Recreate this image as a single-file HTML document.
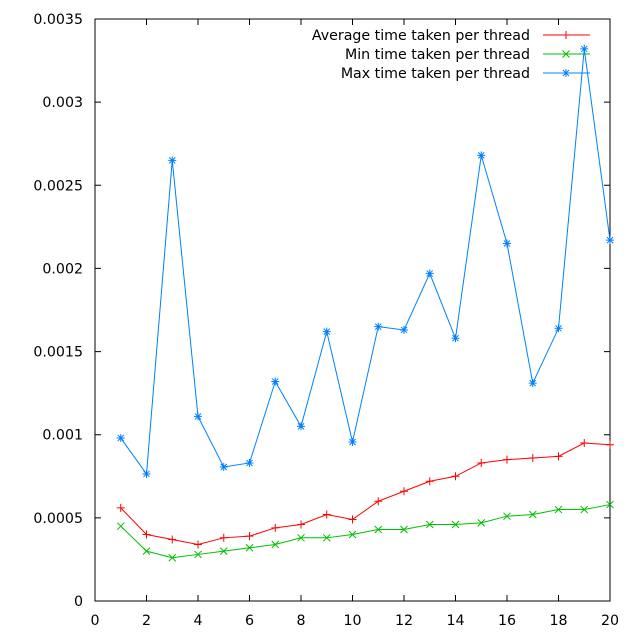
<!DOCTYPE html>
<html><head><meta charset="utf-8"><style>
html,body{margin:0;padding:0;background:#fff;}
svg{display:block;font-family:"DejaVu Sans","Liberation Sans",sans-serif;}
</style></head><body>
<svg id="chart" width="640" height="640" viewBox="0 0 640 640" xmlns="http://www.w3.org/2000/svg"></svg>
<script>
const threads = [1,2,3,4,5,6,7,8,9,10,11,12,13,14,15,16,17,18,19,20];
const avgTime = [0.00056,0.0004,0.00037,0.00034,0.00038,0.00039,0.00044,0.00046,0.00052,0.00049,0.0006,0.00066,0.00072,0.00075,0.00083,0.00085,0.00086,0.00087,0.00095,0.00094];
const minTime = [0.00045,0.0003,0.00026,0.00028,0.0003,0.00032,0.00034,0.00038,0.00038,0.0004,0.00043,0.00043,0.00046,0.00046,0.00047,0.00051,0.00052,0.00055,0.00055,0.00058];
const maxTime = [0.00098,0.000764,0.00265,0.00111,0.000806,0.00083,0.00132,0.00105,0.00162,0.000956,0.00165,0.00163,0.00197,0.00158,0.00268,0.00215,0.00131,0.00164,0.00332,0.00217];
const xTicks = [0,2,4,6,8,10,12,14,16,18,20];
const yTicks = [0,0.0005,0.001,0.0015,0.002,0.0025,0.003,0.0035];
const yTickLabels = ["0","0.0005","0.001","0.0015","0.002","0.0025","0.003","0.0035"];
const seriesNames = ["Average time taken per thread","Min time taken per thread","Max time taken per thread"];

const NS="http://www.w3.org/2000/svg";
const svg=document.getElementById('chart');
const L=95,R=610,T=19,B=601;
const FS=14.2;
const xs=v=>L+(v-0)/(20-0)*(R-L);
const ys=v=>B-(v-0)/(0.0035-0)*(B-T);
function mk(tag,attrs,parent){const e=document.createElementNS(NS,tag);for(const k in attrs)e.setAttribute(k,attrs[k]);(parent||svg).appendChild(e);return e;}

const frame=mk('rect',{x:L,y:T,width:R-L,height:B-T,fill:'none',stroke:'#000','stroke-width':1});



xTicks.forEach(t=>{
  const x=xs(t);
  const tk=mk('path',{d:`M${x},${B}v-6M${x},${T}v6`,stroke:'#000'});
  
  
  const tx=mk('text',{x:x,y:B+24,'text-anchor':'middle','font-size':FS});
  tx.textContent=t;
  
  
});
yTicks.forEach((t,i)=>{
  const y=ys(t);
  const tk=mk('path',{d:`M${L},${y}h6M${R},${y}h-6`,stroke:'#000'});
  
  
  const tx=mk('text',{x:83,y:y+5,'text-anchor':'end','font-size':FS});
  tx.textContent=yTickLabels[i];
  
  
});

function marker(g,x,y,type,color){
  let d;
  if(type==='plus') d=`M${x-4},${y}h8M${x},${y-4}v8`;
  else if(type==='x') d=`M${x-3.5},${y-3.5}l7,7M${x-3.5},${y+3.5}l7,-7`;
  else d=`M${x-4},${y}h8M${x},${y-4}v8M${x-3},${y-3}l6,6M${x-3},${y+3}l6,-6`;
  const m=mk('path',{d:d,stroke:color,'stroke-width':1,fill:'none'},g);
  
  
}
const series=[[avgTime,'#ff0000','plus','average-series'],[minTime,'#00c000','x','min-series'],[maxTime,'#0080ff','star','max-series']];
const legendY=[35,54,73];
series.forEach((s,si)=>{
  const g=mk('g',{});
  
  
  const pts=threads.map((t,i)=>xs(t)+','+ys(s[0][i])).join(' ');
  const pl=mk('polyline',{points:pts,fill:'none',stroke:s[1],'stroke-width':1},g);
  
  
  threads.forEach((t,i)=>marker(g,xs(t),ys(s[0][i]),s[2],s[1]));
  const lg=mk('g',{});
  
  
  const tx=mk('text',{x:530,y:legendY[si]+5,'text-anchor':'end','font-size':FS},lg);
  tx.textContent=seriesNames[si];
  mk('line',{x1:543,x2:590,y1:legendY[si],y2:legendY[si],stroke:s[1]},lg);
  marker(lg,566,legendY[si],s[2],s[1]);
});
</script>
</body></html>
